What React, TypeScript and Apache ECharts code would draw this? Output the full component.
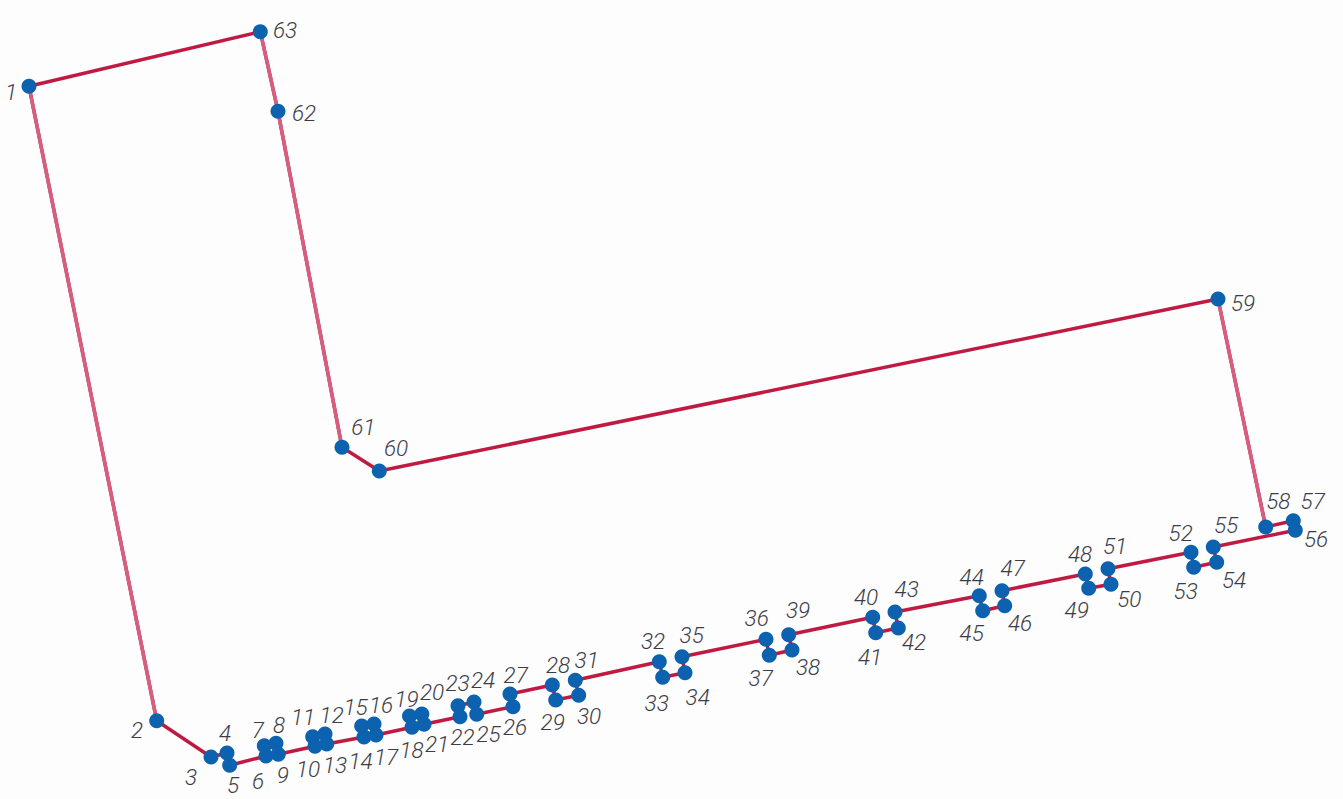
import React, { useEffect, useRef } from "react";
import * as echarts from "echarts";

// Vertex numbers 1..63 (x right, y down).
const pointX = [
  29, 156.7, 211, 227, 229.7, 266, 264.3, 276, 278.3, 315,
  312.7, 325, 326.7, 364, 361.7, 374, 376, 412, 409.5, 421.8,
  424, 460, 458, 474, 476.7, 513, 510, 552.3, 555.7, 578.7,
  575.3, 659.3, 662.7, 685, 682, 766, 769.3, 792, 788.7, 872.7,
  875.7, 898.3, 895, 979.3, 982.7, 1004.7, 1002, 1085.3, 1088.7, 1111,
  1108, 1191, 1193.7, 1216.7, 1213.3, 1295.3, 1293.3, 1265.7, 1218, 379.3,
  342, 278, 260.3,
];
const pointY = [
  86.3, 720.7, 757, 753, 765.3, 756, 745.7, 743.3, 754.3, 746.3,
  736.7, 734, 744, 737, 726, 724, 735, 727.3, 716, 714,
  724.3, 716.7, 705.7, 702, 714.3, 706.7, 694, 685, 700, 695.3,
  680.3, 661.7, 677.3, 672.7, 656.7, 639.3, 655.3, 650, 634.7, 617.3,
  632.7, 628, 612, 595.7, 610.7, 605.7, 590.7, 574, 588.3, 584.3,
  568.7, 552.3, 567.3, 562.3, 547, 530.3, 520.7, 527, 299, 471,
  447.3, 111.3, 31.7,
];
// Where each number's text sits.
const labelX = [
  11, 137, 191, 225, 233, 258, 257.7, 279, 282.7, 308,
  303, 331.7, 335, 360.5, 355.5, 381, 386, 411.5, 406.5, 432,
  437, 462.5, 457.5, 483, 488.5, 515, 515.7, 558, 552.7, 589,
  586.7, 653, 656.7, 697.7, 691.7, 756.7, 760.7, 808, 798, 866,
  870, 914, 906.7, 971.7, 971.7, 1020, 1012.7, 1080, 1076.7, 1129.3,
  1115, 1180.7, 1185.7, 1234, 1226, 1316, 1312.7, 1278.3, 1243, 396,
  363.3, 304, 285,
];
const labelY = [
  92, 730, 777, 733, 785, 781, 730, 725, 775, 769,
  717, 715, 765, 760.7, 706.7, 705, 757, 750, 699, 691.7,
  744, 737, 683, 680, 734, 726.7, 675, 665, 721.7, 716,
  660, 640.7, 702.7, 697.3, 635, 618.3, 678.3, 667.3, 610, 596.7,
  657.3, 641.7, 589.3, 577.3, 633.3, 623.3, 568.3, 554, 610, 599.3,
  546, 532.7, 590.7, 580, 525, 539, 500.7, 500.7, 303, 448.3,
  426.7, 112.7, 30,
];
// The long steep edges are printed paler than the others (start vertex numbers).
const paleEdgeStarts = [1, 58, 61, 62];

const xy = (i: number): [number, number] => [pointX[i], pointY[i]];

export default function App() {
  const ref = useRef<HTMLDivElement>(null);
  useEffect(() => {
    const chart = echarts.init(ref.current!, null, { renderer: "svg" });
    const ring = [...pointX.map((_, i) => xy(i)), xy(0)];
    const pale: any[] = [];
    paleEdgeStarts.forEach((s) => {
      pale.push(xy(s - 1), xy(s), "-");
    });
    chart.setOption({
      animation: false,
      backgroundColor: "#fdfdfd",
      grid: { left: 0, top: 0, width: 1343, height: 799 },
      xAxis: { type: "value", min: 0, max: 1343, show: false },
      yAxis: { type: "value", min: 0, max: 799, inverse: true, show: false },
      series: [
        {
          type: "line",
          data: ring,
          showSymbol: false,
          silent: true,
          z: 1,
          clip: false,
          lineStyle: { color: "#c01a42", width: 3.5 },
        },
        {
          type: "line",
          data: pale,
          showSymbol: false,
          silent: true,
          z: 2,
          clip: false,
          connectNulls: false,
          lineStyle: { color: "#d65f80", width: 3.5 },
        },
        {
          type: "scatter",
          symbol: "circle",
          symbolSize: 15,
          z: 3,
          clip: false,
          itemStyle: { color: "#0c62ae", opacity: 1 },
          data: pointX.map((_, i) => ({
            value: xy(i),
            label: {
              show: true,
              position: "inside",
              formatter: String(i + 1),
              offset: [labelX[i] - pointX[i], labelY[i] - pointY[i]],
              color: "#3c3c46",
              fontFamily: "Roboto, sans-serif",
              fontStyle: "italic",
              fontWeight: 300,
              fontSize: 22.5,
              align: "center",
              verticalAlign: "middle",
            },
          })),
        },
      ],
    });
    return () => chart.dispose();
  }, []);
  return (
    <div
      ref={ref}
      style={{ position: "absolute", left: 0, top: 0, width: 1343, height: 799 }}
    />
  );
}
